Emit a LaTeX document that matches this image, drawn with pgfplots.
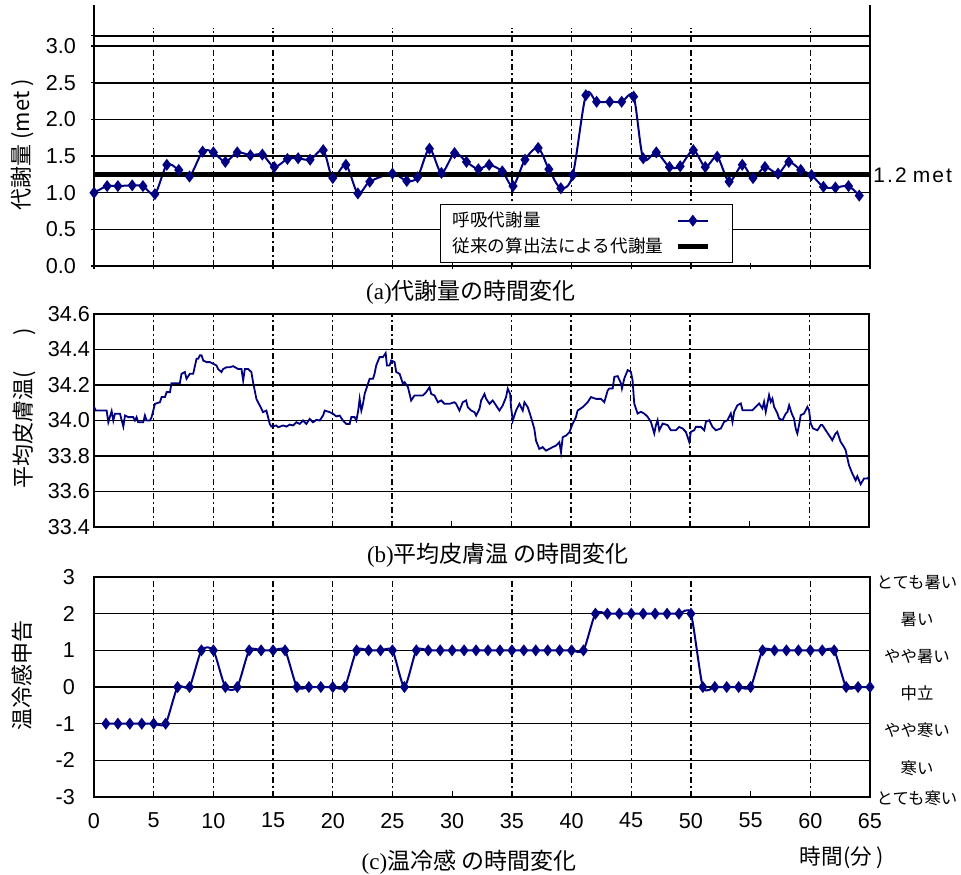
\documentclass[border=0pt]{standalone}
\usepackage{pgfplots}
\pgfplotsset{compat=1.18}
\usepackage{fontspec}
\setmainfont{Liberation Sans}
\newfontfamily\jp{Noto Sans CJK JP}
\newfontfamily\tms{Liberation Serif}
\newfontfamily\spaced[LetterSpace=10]{Liberation Sans}
\definecolor{navy}{RGB}{0,0,128}

\pgfplotsset{
  base/.style={
    scale only axis, anchor=south west, width=388pt,
    xmin=0, xmax=65, clip=false,
    /pgf/number format/assume math mode=true,
    tick label style={font=\fontsize{10.8}{12}\selectfont},
    ymajorgrids, major grid style={black, line width=0.8pt},
    axis line style={-, black, line width=1pt},
    tick style={black, line width=0.6pt},
    major tick length=3pt,
    tick pos=left,
    xtick={0,5,...,65},
  },
}
\tikzset{vd/.style={black, line width=0.7pt, dash pattern=on 3pt off 1.5pt on 1pt off 1.5pt}}

\begin{document}
\begin{tikzpicture}
\path[use as bounding box] (0,0) rectangle (480.5pt,437pt);

% ---------------- (a) ----------------
\begin{axis}[base, at={(47pt,304pt)}, height=130.5pt, ymin=0, ymax=3.56,
  axis x line=bottom, axis y line=left,
  x axis line style={-}, y axis line style={-},
  xticklabels={},
  ytick={0,0.5,1.0,1.5,2.0,2.5,3.0},
  yticklabel style={xshift=-4pt, /pgf/number format/.cd, fixed, fixed zerofill, precision=1},
  extra y ticks={3.14}, extra y tick labels={}, extra y tick style={grid=major},
  legend plot pos=right, legend cell align=left,
  legend image code/.code={\draw[mark repeat=2,mark phase=2,#1] plot coordinates {(4pt,0pt) (11.5pt,0pt) (19pt,0pt)}; \path (0pt,0pt) (26pt,0pt);},
  legend style={at={(0.446,0.237)}, anchor=north west, draw=black, line width=0.6pt,
    font=\jp\fontsize{8.8}{9.6}\selectfont, inner xsep=4pt, inner ysep=1.5pt},
]
\pgfplotsinvokeforeach{5,10,15,20,25,35,40,45,50,60}{\draw[vd] (axis cs:#1,0) -- (axis cs:#1,3.25);}
\draw[black, line width=1pt] (axis cs:65,0) -- (axis cs:65,3.56);
\addplot[navy, line width=1pt, smooth, mark=diamond*, mark size=2.2pt, mark options={solid, fill=navy}] coordinates {
(0,1.0) (1.1,1.09) (2,1.09) (3.2,1.1) (4.1,1.09) (5.1,0.98) (6.1,1.38) (7.1,1.31) (8,1.22) (9.1,1.56) (10,1.55) (11,1.42) (12,1.55) (13.1,1.51) (14.1,1.52) (15.1,1.35) (16.2,1.46) (17.1,1.47) (18.1,1.45) (19.2,1.58) (20,1.2) (21.1,1.38) (22.1,0.99) (23.1,1.15) (25,1.26) (26.2,1.16) (27.1,1.21) (28.1,1.6) (29.1,1.27) (30.2,1.54) (31.2,1.42) (32.2,1.32) (33.1,1.38) (34.2,1.29) (35.1,1.09) (36.1,1.45) (37.2,1.61) (38.1,1.32) (39.1,1.06) (40.1,1.24) (41.2,2.33) (42.1,2.24) (43.2,2.24) (44.2,2.24) (45.2,2.31) (46,1.47) (47.1,1.55) (48.2,1.35) (49.1,1.36) (50.2,1.58) (51.2,1.35) (52.2,1.49) (53.2,1.15) (54.3,1.38) (55.2,1.2) (56.2,1.35) (57.3,1.26) (58.2,1.42) (59.2,1.31) (60.1,1.24) (61.1,1.08) (62.1,1.07) (63.2,1.09) (64.1,0.96)
};
\addlegendentry{呼吸代謝量}
\addplot[black, line width=2.5pt] coordinates {(0,1.25) (65,1.25)};
\addlegendentry{従来の算出法による代謝量}
\end{axis}

% ---------------- (b) ----------------
\begin{axis}[base, at={(47pt,173.5pt)}, width=387.5pt, height=106.5pt,
  ymin=33.4, ymax=34.6, xticklabels={},
  ytick={33.4,33.6,33.8,34.0,34.2,34.4,34.6},
  yticklabel style={xshift=1.5pt, /pgf/number format/.cd, fixed, fixed zerofill, precision=1},
]
\pgfplotsinvokeforeach{5,10,15,20,25,35,40,45,50,60}{\draw[vd] (axis cs:#1,33.4) -- (axis cs:#1,34.6);}
\addplot[navy, line width=0.9pt] coordinates {
(0,34.076) (0.15,34.056) (1.06,34.056) (1.2,33.99) (1.48,34.053) (1.62,34.0) (1.76,34.038) (2.18,34.038) (2.46,33.966) (2.6,34.028) (2.88,34.019) (3.29,34.019) (3.43,34.0) (3.57,34.019) (3.71,33.99) (4.13,33.99) (4.27,34.028) (4.41,34.0) (4.69,34.0) (4.83,34.019) (4.97,34.056) (5.11,34.094) (5.53,34.103) (5.67,34.132) (5.95,34.132) (6.09,34.16) (6.37,34.16) (6.5,34.21) (7.2,34.21) (7.34,34.263) (7.62,34.273) (7.76,34.235) (8.04,34.263) (8.32,34.263) (8.6,34.348) (8.74,34.348) (8.88,34.367) (9.02,34.367) (9.16,34.338) (9.44,34.329) (9.72,34.329) (9.99,34.32) (10.27,34.31) (10.41,34.29) (10.69,34.273) (10.83,34.29) (11.11,34.30) (11.39,34.30) (11.67,34.306) (12.09,34.29) (12.37,34.29) (12.51,34.226) (12.65,34.29) (12.93,34.29) (13.2,34.273) (13.34,34.216) (13.62,34.122) (13.76,34.103) (13.9,34.085) (14.18,34.047) (14.46,34.056) (14.74,33.981) (14.88,33.966) (15.3,33.972) (15.44,33.962) (15.86,33.972) (16.14,33.966) (16.42,33.977) (16.69,33.972) (16.97,33.99) (17.25,33.981) (17.53,34.0) (17.81,33.981) (18.09,34.009) (18.37,33.99) (18.65,34.004) (18.93,34.0) (19.21,34.028) (19.35,34.056) (19.77,34.047) (20.05,34.038) (20.32,34.023) (20.6,34.028) (20.88,34.0) (21.16,33.981) (21.44,33.981) (21.58,34.019) (21.86,34.019) (22.0,34.0) (22.14,34.047) (22.28,34.122) (22.42,34.056) (22.56,34.094) (22.7,34.15) (22.98,34.207) (23.12,34.235) (23.4,34.235) (23.53,34.263) (23.67,34.31) (23.95,34.357) (24.23,34.357) (24.46,34.38) (24.57,34.31) (24.79,34.31) (24.93,34.338) (25.21,34.329) (25.35,34.273) (25.63,34.263) (25.91,34.207) (26.05,34.216) (26.33,34.188) (26.6,34.113) (26.88,34.141) (27.3,34.141) (27.58,34.141) (27.86,34.16) (28.14,34.188) (28.28,34.15) (28.56,34.141) (28.84,34.103) (29.12,34.113) (29.4,34.094) (29.81,34.094) (30.23,34.103) (30.37,34.094) (30.65,34.056) (30.93,34.103) (31.21,34.113) (31.35,34.075) (31.63,34.056) (31.91,34.047) (32.05,34.028) (32.33,34.066) (32.47,34.113) (32.75,34.15) (32.89,34.122) (33.17,34.094) (33.44,34.113) (33.72,34.085) (34.0,34.056) (34.28,34.085) (34.56,34.132) (34.7,34.179) (34.9,34.15) (34.98,34.075) (35.12,34.0) (35.4,34.056) (35.68,34.094) (35.96,34.056) (36.1,34.103) (36.38,34.075) (36.65,34.019) (36.93,33.953) (37.07,33.887) (37.35,33.84) (37.63,33.85) (37.91,33.83) (38.19,33.84) (38.47,33.85) (38.75,33.859) (39.03,33.878) (39.17,33.821) (39.31,33.906) (39.59,33.915) (39.87,33.934) (40.14,33.981) (40.42,34.019) (40.56,34.056) (40.98,34.075) (41.4,34.103) (41.68,34.132) (42.1,34.122) (42.52,34.122) (42.8,34.103) (43.08,34.169) (43.22,34.18) (43.5,34.18) (43.64,34.246) (43.92,34.25) (44.2,34.209) (44.28,34.18) (44.48,34.237) (44.76,34.284) (45.03,34.274) (45.17,34.227) (45.31,34.096) (45.59,34.039) (45.87,34.049) (46.15,34.039) (46.43,34.021) (46.71,33.992) (46.99,33.927) (47.13,33.974) (47.27,34.002) (47.41,33.945) (47.69,33.983) (48.11,33.974) (48.38,33.945) (48.8,33.945) (49.08,33.964) (49.36,33.955) (49.64,33.936) (49.92,33.88) (50.06,33.936) (50.34,33.945) (50.48,33.964) (50.9,33.964) (51.18,33.945) (51.32,33.992) (51.6,34.002) (51.87,33.964) (52.15,33.945) (52.57,33.955) (52.85,33.992) (53.13,34.002) (53.41,34.039) (53.55,33.992) (53.69,34.049) (53.97,34.086) (54.25,34.096) (54.39,34.058) (54.67,34.058) (55.22,34.058) (55.5,34.077) (55.78,34.096) (56.06,34.068) (56.2,34.105) (56.34,34.049) (56.48,34.096) (56.62,34.143) (56.76,34.105) (56.9,34.124) (57.04,34.077) (57.32,34.039) (57.46,34.011) (57.74,34.002) (58.02,34.039) (58.16,34.049) (58.3,34.086) (58.52,34.039) (58.71,34.011) (58.85,33.955) (58.99,33.927) (59.13,33.974) (59.27,34.03) (59.55,34.039) (59.83,34.077) (59.97,34.058) (60.11,33.983) (60.31,33.955) (60.67,33.945) (60.95,33.974) (61.09,33.974) (61.37,33.945) (61.65,33.917) (61.92,33.889) (62.2,33.927) (62.34,33.936) (62.62,33.88) (62.9,33.851) (63.04,33.833) (63.32,33.748) (63.6,33.701) (63.88,33.663) (64.02,33.686) (64.3,33.641) (64.58,33.673) (64.86,33.673) (65,33.682)
};
\end{axis}

% ---------------- (c) ----------------
\begin{axis}[base, at={(47pt,38.5pt)}, height=110pt,
  ymin=-3, ymax=3, ytick={-3,-2,-1,0,1,2,3},
  yticklabel style={xshift=-6pt},
  xticklabel style={yshift=-4.5pt},
]
\pgfplotsinvokeforeach{5,10,15,20,25,35,40,45,50,60}{\draw[vd] (axis cs:#1,-3) -- (axis cs:#1,3);}
\addplot[navy, line width=1pt, smooth, tension=0.4, mark=diamond*, mark size=2.2pt, mark options={solid, fill=navy}] coordinates {
(1,-1) (2,-1) (3,-1) (4,-1) (5,-1) (6,-1) (7,0) (8,0) (9,1) (10,1) (11,0) (12,0) (13,1) (14,1) (15,1) (16,1) (17,0) (18,0) (19,0) (20,0) (21,0) (22,1) (23,1) (24,1) (25,1) (26,0) (27,1) (28,1) (29,1) (30,1) (31,1) (32,1) (33,1) (34,1) (35,1) (36,1) (37,1) (38,1) (39,1) (40,1) (41,1) (42,2) (43,2) (44,2) (45,2) (46,2) (47,2) (48,2) (49,2) (50,2) (51,0) (52,0) (53,0) (54,0) (55,0) (56,1) (57,1) (58,1) (59,1) (60,1) (61,1) (62,1) (63,0) (64,0) (65,0)
};
\end{axis}

% ---------------- texts ----------------
\node[rotate=90, font=\jp\fontsize{11}{12}\selectfont] at (11pt,364.5pt) {代謝量 (met )};
\node[rotate=90, font=\jp\fontsize{11}{12}\selectfont] at (12pt,233pt) {平均皮膚温(\hspace{1.6em})};
\node[rotate=90, font=\jp\fontsize{11}{12}\selectfont] at (11pt,99.5pt) {温冷感申告};

\node[font=\fontsize{11.5}{13}\selectfont] at (235.5pt,291pt) {{\tms (a)}{\jp 代謝量の時間変化}};
\node[font=\fontsize{11.5}{13}\selectfont] at (249pt,159.5pt) {{\tms (b)}{\jp 平均皮膚温 の時間変化}};
\node[font=\fontsize{11.5}{13}\selectfont] at (234.5pt,6pt) {{\tms (c)}{\jp 温冷感 の時間変化}};
\node[font=\jp\fontsize{10.8}{12}\selectfont] at (421pt,8pt) {時間(分 )};

\node[anchor=west, font=\spaced\fontsize{10.5}{12}\selectfont, inner sep=0pt] at (436.5pt,349.5pt) {1.2\hspace{3pt}met};

\foreach \t/\y in {とても暑い/145.5, 暑い/127, やや暑い/108.5, 中立/90.5, やや寒い/72, 寒い/53, とても寒い/38}
  \node[font=\jp\fontsize{8.2}{10}\selectfont] at (458.5pt,\y pt) {\t};
\end{tikzpicture}
\end{document}
